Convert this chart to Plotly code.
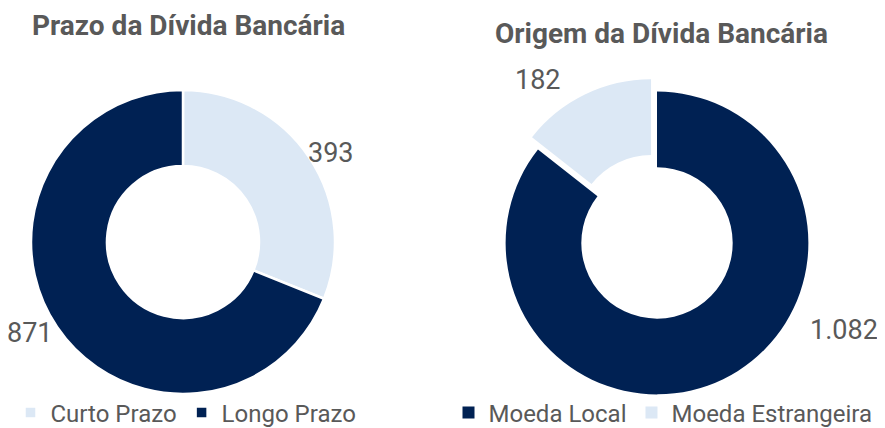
import plotly.graph_objects as go

# Data
prazo_labels = ["Curto Prazo", "Longo Prazo"]
prazo_values = [393, 871]
origem_labels = ["Moeda Local", "Moeda Estrangeira"]
origem_values = [1082, 182]

titles = ["Prazo da Dívida Bancária", "Origem da Dívida Bancária"]

NAVY = "#002153"
LIGHT = "#DCE8F5"
GRAY = "#595959"
FONT = "Roboto"
W, H = 885, 428


def fmt(v):
    return f"{v:,}".replace(",", ".")


def px_x(v):
    return v / W


def px_y(v):
    return 1 - v / H


fig = go.Figure()

fig.add_trace(go.Pie(
    labels=prazo_labels, values=prazo_values, hole=0.5, sort=False,
    direction="clockwise", rotation=0,
    marker=dict(colors=[LIGHT, NAVY], line=dict(color="white", width=2.5)),
    textinfo="none", hoverinfo="label+value",
    domain=dict(x=[px_x(175 - 152), px_x(175 + 152)], y=[px_y(234 + 152), px_y(234 - 152)]),
    legend="legend",
))

fig.add_trace(go.Pie(
    labels=origem_labels, values=origem_values, hole=0.5, sort=False,
    direction="clockwise", rotation=0, pull=[0, 0.09],
    marker=dict(colors=[NAVY, LIGHT], line=dict(color="white", width=0)),
    textinfo="none", hoverinfo="label+value",
    domain=dict(x=[px_x(649 - 165), px_x(649 + 165)], y=[px_y(235 + 165), px_y(235 - 165)]),
    legend="legend2",
))

annotations = []
for t, cx, cy in [(titles[0], 180, 18), (titles[1], 653, 26)]:
    annotations.append(dict(text=f"<b>{t}</b>", x=px_x(cx), y=px_y(cy),
                            xref="paper", yref="paper", showarrow=False,
                            xanchor="center", yanchor="middle",
                            font=dict(family=FONT, size=28, color=GRAY)))

label_pos = [
    (prazo_values[0], 323, 145),
    (prazo_values[1], 22, 325),
    (origem_values[1], 530, 72),
    (origem_values[0], 836, 322),
]
for v, cx, cy in label_pos:
    annotations.append(dict(text=fmt(v), x=px_x(cx), y=px_y(cy),
                            xref="paper", yref="paper", showarrow=False,
                            xanchor="center", yanchor="middle",
                            font=dict(family=FONT, size=27, color=GRAY)))

legend_style = dict(orientation="h", font=dict(family=FONT, size=24, color=GRAY),
                    bgcolor="rgba(0,0,0,0)", yanchor="middle", xanchor="center",
                    traceorder="normal")

fig.update_layout(
    width=W, height=H,
    margin=dict(l=0, r=0, t=0, b=0),
    paper_bgcolor="white", plot_bgcolor="white",
    font=dict(family=FONT, color=GRAY),
    separators=",.",
    legend=dict(x=px_x(178), y=px_y(405), **legend_style),
    legend2=dict(x=px_x(655), y=px_y(405), **legend_style),
    annotations=annotations,
)

fig.write_html("out.html")
